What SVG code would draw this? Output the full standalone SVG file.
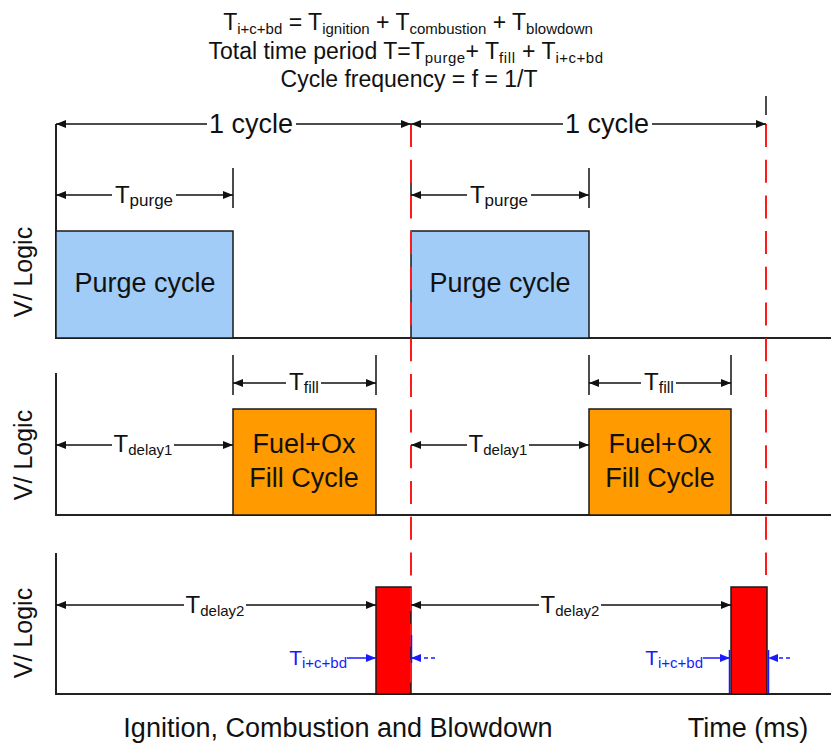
<svg xmlns="http://www.w3.org/2000/svg" width="831" height="743" viewBox="0 0 831 743">
<defs>
<marker id="ah" viewBox="0 0 10 8" refX="10" refY="4" markerWidth="10" markerHeight="8" markerUnits="userSpaceOnUse" orient="auto-start-reverse"><path d="M0,0 L10,4 L0,8 z" fill="#111"/></marker>
<marker id="ahb" viewBox="0 0 10 8" refX="10" refY="4" markerWidth="10" markerHeight="8" markerUnits="userSpaceOnUse" orient="auto-start-reverse"><path d="M0,0 L10,4 L0,8 z" fill="#1a1aff"/></marker>
<style>
text{font-family:"Liberation Sans",Arial,sans-serif;fill:#111}
.hdr{font-size:23px;text-anchor:middle}
.sub{font-size:15px}
.big{font-size:27px;text-anchor:middle}
.ax{fill:none;stroke:#222;stroke-width:2}
.dim{stroke:#111;stroke-width:1.5;fill:none;marker-start:url(#ah);marker-end:url(#ah)}
.tick{stroke:#111;stroke-width:1.5}
.red{stroke:#ff1a1a;stroke-width:2;stroke-dasharray:23 12.7;fill:none}
.box{stroke:#1a1a1a;stroke-width:1.5}
.ylab{font-size:25px;text-anchor:middle}
.lbl{font-size:24px;text-anchor:middle}
.blue{fill:#1a1aff}
.bl{stroke:#1a1aff;stroke-width:1.5;fill:none}
.mask{fill:#fff}
</style>
</defs>
<rect width="831" height="743" fill="#fff"/>

<g id="header">
<text class="hdr" x="408" y="30">T<tspan class="sub" dy="4">i+c+bd</tspan><tspan dy="-4"> = T</tspan><tspan class="sub" dy="4">ignition</tspan><tspan dy="-4"> + T</tspan><tspan class="sub" dy="4">combustion</tspan><tspan dy="-4"> + T</tspan><tspan class="sub" dy="4">blowdown</tspan></text>
<text class="hdr" x="406" y="58.5">Total time period T=T<tspan class="sub" dy="4" letter-spacing="0.5">purge</tspan><tspan dy="-4">+ T</tspan><tspan class="sub" dy="4" letter-spacing="0.6">fill</tspan><tspan dy="-4"> + T</tspan><tspan class="sub" dy="4" letter-spacing="0.5">i+c+bd</tspan></text>
<text class="hdr" x="409" y="87">Cycle frequency = f = 1/T</text>
</g>

<g id="axes">
<polyline class="ax" points="56,124 56,338 831,338"/>
<polyline class="ax" points="56,373 56,515 831,515"/>
<polyline class="ax" points="56,553 56,694 831,694"/>
<text class="ylab" transform="translate(32,272) rotate(-90)">V/ Logic</text>
<text class="ylab" transform="translate(32,455) rotate(-90)">V/ Logic</text>
<text class="ylab" transform="translate(32,633) rotate(-90)">V/ Logic</text>
</g>

<g id="purge1">
<rect class="box" x="56" y="231" width="177" height="107" fill="#a0ccf7"/>
<text class="big" x="145" y="292">Purge cycle</text>
</g>
<g id="purge2">
<rect class="box" x="411" y="231" width="178" height="107" fill="#a0ccf7"/>
<text class="big" x="500" y="292">Purge cycle</text>
</g>
<g id="fill1">
<rect class="box" x="233" y="409" width="143" height="106" fill="#ff9a00"/>
<text class="big" x="304" y="453">Fuel+Ox</text>
<text class="big" x="304" y="487">Fill Cycle</text>
</g>
<g id="fill2">
<rect class="box" x="589" y="409" width="142" height="106" fill="#ff9a00"/>
<text class="big" x="660" y="453">Fuel+Ox</text>
<text class="big" x="660" y="487">Fill Cycle</text>
</g>
<g id="icb1">
<rect class="box" x="376" y="587" width="35" height="107" fill="#ff0000"/>
</g>
<g id="icb2">
<rect class="box" x="731" y="587" width="36" height="107" fill="#ff0000"/>
</g>

<g id="connectors">
<line class="tick" x1="766" y1="96" x2="766" y2="115"/>
<line class="tick" x1="233" y1="168" x2="233" y2="208"/>
<line class="tick" x1="411" y1="168" x2="411" y2="208"/>
<line class="tick" x1="589" y1="168" x2="589" y2="208"/>
<line class="tick" x1="233" y1="355" x2="233" y2="395"/>
<line class="tick" x1="376" y1="355" x2="376" y2="395"/>
<line class="tick" x1="589" y1="355" x2="589" y2="395"/>
<line class="tick" x1="731" y1="355" x2="731" y2="395"/>
<line class="red" x1="411" y1="124" x2="411" y2="694"/>
<line class="red" x1="766" y1="124" x2="766" y2="575"/>
<line class="dim" x1="56" y1="124" x2="411" y2="124"/>
<line class="dim" x1="411" y1="124" x2="766" y2="124"/>
<line class="dim" x1="56" y1="195" x2="233" y2="195"/>
<line class="dim" x1="411" y1="195" x2="589" y2="195"/>
<line class="dim" x1="233" y1="383" x2="376" y2="383"/>
<line class="dim" x1="589" y1="383" x2="731" y2="383"/>
<line class="dim" x1="56" y1="445" x2="233" y2="445"/>
<line class="dim" x1="411" y1="445" x2="589" y2="445"/>
<line class="dim" x1="56" y1="605" x2="376" y2="605"/>
<line class="dim" x1="411" y1="605" x2="731" y2="605"/>
<rect class="mask" x="207" y="112" width="89" height="24"/>
<rect class="mask" x="563" y="112" width="89" height="24"/>
<rect class="mask" x="112" y="183" width="64" height="24"/>
<rect class="mask" x="467" y="183" width="64" height="24"/>
<rect class="mask" x="286" y="370" width="35" height="24"/>
<rect class="mask" x="641" y="370" width="35" height="24"/>
<rect class="mask" x="112" y="433" width="62" height="24"/>
<rect class="mask" x="467" y="433" width="62" height="24"/>
<rect class="mask" x="184" y="593" width="62" height="24"/>
<rect class="mask" x="539" y="593" width="62" height="24"/>
<text class="big" x="251" y="133">1 cycle</text>
<text class="big" x="607" y="133">1 cycle</text>
<text class="lbl" x="144" y="203" font-size="26">T<tspan font-size="17" dy="3">purge</tspan></text>
<text class="lbl" x="499" y="203" font-size="26">T<tspan font-size="17" dy="3">purge</tspan></text>
<text class="lbl" x="304" y="390">T<tspan font-size="16" dy="3">fill</tspan></text>
<text class="lbl" x="659" y="390">T<tspan font-size="16" dy="3">fill</tspan></text>
<text class="lbl" x="143" y="452">T<tspan class="sub" dy="3">delay1</tspan></text>
<text class="lbl" x="498" y="452">T<tspan class="sub" dy="3">delay1</tspan></text>
<text class="lbl" x="215" y="613">T<tspan class="sub" dy="3">delay2</tspan></text>
<text class="lbl" x="570" y="613">T<tspan class="sub" dy="3">delay2</tspan></text>
<line class="bl" x1="411.5" y1="635" x2="411.5" y2="663"/>
<line class="bl" x1="729.5" y1="650" x2="729.5" y2="693"/>
<line class="bl" x1="768.5" y1="650" x2="768.5" y2="693"/>
<line class="bl" x1="347" y1="658" x2="376" y2="658" marker-end="url(#ahb)"/>
<line class="bl" x1="435" y1="658" x2="411" y2="658" stroke-dasharray="4 3" marker-end="url(#ahb)"/>
<line class="bl" x1="703" y1="658" x2="730" y2="658" marker-end="url(#ahb)"/>
<line class="bl" x1="790" y1="658" x2="768" y2="658" stroke-dasharray="4 3" marker-end="url(#ahb)"/>
<text class="blue" x="347" y="665" font-size="21" text-anchor="end">T<tspan class="blue" font-size="15" dy="3">i+c+bd</tspan></text>
<text class="blue" x="703" y="665" font-size="21" text-anchor="end">T<tspan class="blue" font-size="15" dy="3">i+c+bd</tspan></text>
</g>

<g id="footer">
<text class="big" x="338" y="737">Ignition, Combustion and Blowdown</text>
<text class="big" x="748" y="737">Time (ms)</text>
</g>
</svg>
